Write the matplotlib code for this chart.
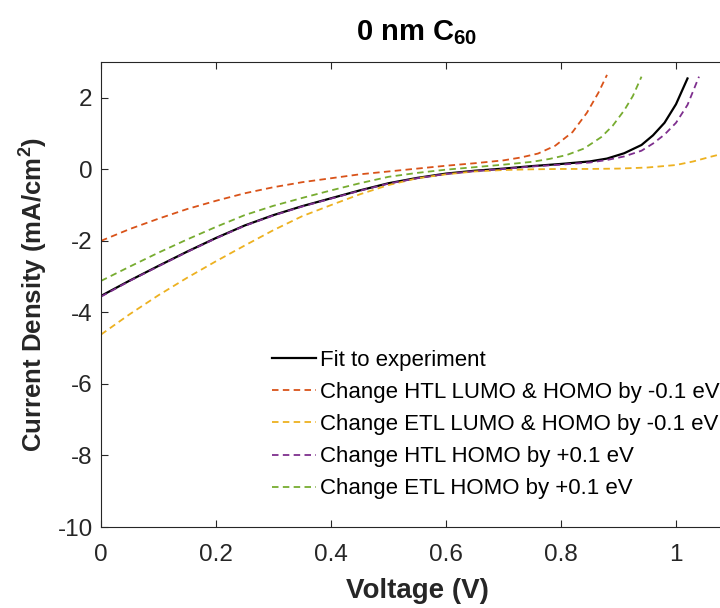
import matplotlib
matplotlib.use("Agg")
import matplotlib.pyplot as plt

plt.rcParams['font.family'] = ['Liberation Sans', 'DejaVu Sans']
plt.rcParams['mathtext.fontset'] = 'custom'
plt.rcParams['mathtext.rm'] = 'Liberation Sans'
plt.rcParams['mathtext.bf'] = 'Liberation Sans:bold'

# Data (Voltage in V, current density in mA/cm^2)
v_fit = [0.00, 0.05, 0.10, 0.15, 0.20, 0.25, 0.30, 0.35, 0.40, 0.45, 0.50, 0.55, 0.60,
         0.65, 0.70, 0.75, 0.80, 0.85, 0.88, 0.91, 0.94, 0.96, 0.98, 1.00, 1.02]
j_fit = [-3.54, -3.11, -2.70, -2.30, -1.92, -1.57, -1.28, -1.03, -0.81, -0.59, -0.39, -0.24, -0.12,
         -0.04, 0.02, 0.09, 0.15, 0.22, 0.30, 0.45, 0.68, 0.95, 1.30, 1.82, 2.54]

v_htl_lh = [0.00, 0.05, 0.10, 0.15, 0.20, 0.25, 0.30, 0.35, 0.40, 0.45, 0.50, 0.55, 0.60,
            0.65, 0.70, 0.73, 0.76, 0.79, 0.82, 0.845, 0.865, 0.88]
j_htl_lh = [-2.00, -1.67, -1.38, -1.11, -0.88, -0.67, -0.50, -0.36, -0.25, -0.14, -0.06, 0.02, 0.10,
            0.17, 0.25, 0.33, 0.44, 0.66, 1.04, 1.58, 2.14, 2.64]

v_etl_lh = [0.00, 0.05, 0.10, 0.15, 0.20, 0.25, 0.30, 0.35, 0.40, 0.45, 0.50, 0.55, 0.60,
            0.65, 0.70, 0.75, 0.80, 0.85, 0.90, 0.95, 1.00, 1.03, 1.06, 1.08]
j_etl_lh = [-4.62, -4.05, -3.52, -3.03, -2.57, -2.13, -1.70, -1.31, -1.00, -0.70, -0.44, -0.25, -0.14,
            -0.06, -0.02, 0.00, 0.01, 0.01, 0.02, 0.05, 0.12, 0.22, 0.35, 0.43]

v_htl_h = [0.00, 0.05, 0.10, 0.15, 0.20, 0.25, 0.30, 0.35, 0.40, 0.45, 0.50, 0.55, 0.60,
           0.65, 0.70, 0.75, 0.80, 0.85, 0.88, 0.91, 0.94, 0.96, 0.98, 1.00, 1.02, 1.04]
j_htl_h = [-3.56, -3.12, -2.71, -2.31, -1.93, -1.58, -1.29, -1.04, -0.82, -0.60, -0.40, -0.25, -0.13,
           -0.05, 0.01, 0.08, 0.13, 0.19, 0.26, 0.36, 0.52, 0.72, 0.97, 1.30, 1.80, 2.59]

v_etl_h = [0.00, 0.05, 0.10, 0.15, 0.20, 0.25, 0.30, 0.35, 0.40, 0.45, 0.50, 0.55, 0.60,
           0.65, 0.70, 0.75, 0.78, 0.81, 0.84, 0.87, 0.89, 0.91, 0.925, 0.94]
j_etl_h = [-3.12, -2.72, -2.33, -1.96, -1.61, -1.28, -1.02, -0.80, -0.59, -0.39, -0.21, -0.10, -0.01,
           0.06, 0.13, 0.21, 0.29, 0.40, 0.58, 0.90, 1.22, 1.65, 2.05, 2.59]

labels = ['Fit to experiment',
          'Change HTL LUMO & HOMO by -0.1 eV',
          'Change ETL LUMO & HOMO by -0.1 eV',
          'Change HTL HOMO by +0.1 eV',
          'Change ETL HOMO by +0.1 eV']
colors = ['black', '#D95319', '#EDB120', '#7E2F8E', '#77AC30']

x_ticks = [0, 0.2, 0.4, 0.6, 0.8, 1.0]
x_ticklabels = ['0', '0.2', '0.4', '0.6', '0.8', '1']
y_ticks = [-10, -8, -6, -4, -2, 0, 2]
y_ticklabels = ['-10', '-8', '-6', '-4', '-2', '0', '2']

fig = plt.figure(figsize=(7.2, 6.08), dpi=100)
ax = fig.add_axes([101 / 720, 1 - 527 / 608, 632.5 / 720, 465 / 608])

series = [(v_fit, j_fit), (v_htl_lh, j_htl_lh), (v_etl_lh, j_etl_lh),
          (v_htl_h, j_htl_h), (v_etl_h, j_etl_h)]
for i, (v, j) in enumerate(series):
    if i == 0:
        ax.plot(v, j, color=colors[i], lw=1.6, label=labels[i])
    else:
        ax.plot(v, j, color=colors[i], lw=1.3, dashes=(3.6, 2.4), label=labels[i])

ax.set_xlim(0, 1.1)
ax.set_ylim(-10, 3)
ax.set_xticks(x_ticks)
ax.set_xticklabels(x_ticklabels)
ax.set_yticks(y_ticks)
ax.set_yticklabels(y_ticklabels)

axis_grey = '#262626'
ax.tick_params(direction='in', top=True, right=True, length=5, width=0.8,
               labelsize=17.5, colors=axis_grey, pad=6)
ax.tick_params(axis='x', pad=12)
for s in ax.spines.values():
    s.set_color(axis_grey)
    s.set_linewidth(0.8)

ax.set_xlabel('Voltage (V)', fontsize=20, fontweight='bold', color=axis_grey, labelpad=9)
ax.set_ylabel(r'Current Density (mA/cm$^{\mathbf{2}}$)', fontsize=18.5, fontweight='bold',
              color=axis_grey, labelpad=6)
fig.text(417 / 720, 1 - 33 / 608, r'0 nm C$_{\mathbf{60}}$', fontsize=21, fontweight='bold',
         ha='center', va='center')

ax.legend(loc='upper left', bbox_to_anchor=(272 / 720, 1 - 350 / 608),
          bbox_transform=fig.transFigure, frameon=False, fontsize=16,
          handlelength=2.0, handletextpad=0.15, labelspacing=0.5,
          borderpad=0, borderaxespad=0)

fig.savefig('out.png', dpi=100)
